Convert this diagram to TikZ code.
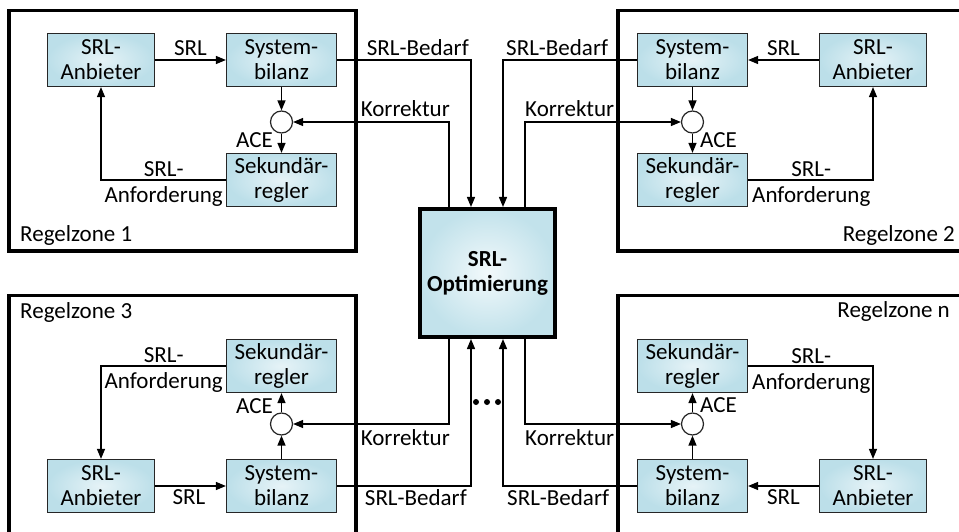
\documentclass[tikz,border=0pt]{standalone}
\usepackage{fontspec}
\setmainfont{Carlito}
\usepackage{tikz}
\usetikzlibrary{arrows.meta,calc}
\definecolor{boxin}{HTML}{E6F3F7}
\definecolor{boxout}{HTML}{BCDFE9}
\definecolor{optin}{HTML}{F2F9FB}
\definecolor{optout}{HTML}{C2E2EB}
\begin{document}
\begin{tikzpicture}[x=1pt,y=-1pt,
  font=\fontsize{23}{25}\selectfont,
  block/.style={draw=black!85, line width=1.2pt, inner color=boxin, outer color=boxout,
    minimum width=110pt, minimum height=53pt, align=center, inner sep=0pt},
  offer/.style={block, minimum width=107pt},
  sumpt/.style={circle, draw=black!85, line width=1.2pt, fill=white, minimum size=22pt, inner sep=0pt},
  optbox/.style={draw=black, line width=4pt, inner color=optin, outer color=optout,
    minimum width=135pt, minimum height=128pt, align=center, inner sep=0pt, font=\fontsize{23}{25}\selectfont\bfseries},
  zone/.style={draw=black, line width=3.5pt},
  arr/.style={-{Triangle[length=10pt,width=8pt]}, line width=1.3pt},
  lbl/.style={inner sep=0pt}
]
\useasboundingbox (0,0) rectangle (959,532);
\clip (0,0) rectangle (959,532);
\fill[white] (0,0) rectangle (959,532);

% control zone frames
\draw[zone] (9,10.5) rectangle (356,251);
\draw[zone] (618,10.5) rectangle (965,251);
\draw[zone] (9,295.5) rectangle (356,536);
\draw[zone] (618,295.5) rectangle (965,536);

% central optimisation
\node[optbox] (opt) at (487.5,273) {SRL-\\Optimierung};

% x positions of the vertical feeds into the optimisation box
\coordinate (kx1) at (449,0);
\coordinate (bx1) at (471,0);
\coordinate (bx2) at (503,0);
\coordinate (kx2) at (525,0);

% ---------- Regelzone 1 ----------
\node[offer] (A1) at (101,60) {SRL-\\Anbieter};
\node[block] (S1) at (281.5,60) {System-\\bilanz};
\node[sumpt] (C1) at (281.5,122) {};
\node[block] (K1) at (281.5,180) {Sekundär-\\regler};
\draw[arr] (A1) -- (S1);
\node[lbl, anchor=base] (t1) at (190.5,56) {SRL};
\draw[arr] (S1) -- (C1);
\draw[arr] (C1) -- (K1);
\node[lbl, anchor=base east] (e1) at (273,148) {ACE};
\draw[arr] (K1.west) -| (A1.south);
\node[lbl, anchor=base east] (f1) at (223,203) {Anforderung};
\node[lbl, anchor=base] (g1) at ($(f1.base)+(0,-26)$) {SRL-};
\draw[arr] (opt.north -| kx1) |- (C1.east);
\node[lbl, anchor=base east] (k1) at (450,117) {Korrektur};
\draw[arr] (S1.east) -| (opt.north -| bx1);
\node[lbl, anchor=base east] (b1) at (469,56) {SRL-Bedarf};
\node[lbl, anchor=base west] (z1) at (20,241) {Regelzone 1};

% ---------- Regelzone 2 ----------
\node[offer] (A2) at (873,60) {SRL-\\Anbieter};
\node[block] (S2) at (692.5,60) {System-\\bilanz};
\node[sumpt] (C2) at (692.5,122) {};
\node[block] (K2) at (692.5,180) {Sekundär-\\regler};
\draw[arr] (A2) -- (S2);
\node[lbl, anchor=base] (t2) at (783.5,56) {SRL};
\draw[arr] (S2) -- (C2);
\draw[arr] (C2) -- (K2);
\node[lbl, anchor=base west] (e2) at (700,148) {ACE};
\draw[arr] (K2.east) -| (A2.south);
\node[lbl, anchor=base west] (f2) at (752,203) {Anforderung};
\node[lbl, anchor=base] (g2) at ($(f2.base)+(0,-26)$) {SRL-};
\draw[arr] (opt.north -| kx2) |- (C2.west);
\node[lbl, anchor=base west] (k2) at (525,117) {Korrektur};
\draw[arr] (S2.west) -| (opt.north -| bx2);
\node[lbl, anchor=base west] (b2) at (506,56) {SRL-Bedarf};
\node[lbl, anchor=base east] (z2) at (955,241) {Regelzone 2};

% ---------- Regelzone 3 ----------
\node[offer] (A3) at (101,486) {SRL-\\Anbieter};
\node[block] (S3) at (281.5,486) {System-\\bilanz};
\node[sumpt] (C3) at (281.5,424) {};
\node[block] (K3) at (281.5,366) {Sekundär-\\regler};
\draw[arr] (A3) -- (S3);
\node[lbl, anchor=north] (t3) at (189,489) {SRL};
\draw[arr] (S3) -- (C3);
\draw[arr] (C3) -- (K3);
\node[lbl, anchor=base east] (e3) at (273,413) {ACE};
\draw[arr] (K3.west) -| (A3.north);
\node[lbl, anchor=base east] (f3) at (223,388) {Anforderung};
\node[lbl, anchor=base] (g3) at ($(f3.base)+(0,-26)$) {SRL-};
\draw[arr] (opt.south -| kx1) |- (C3.east);
\node[lbl, anchor=north east] (k3) at (450,429) {Korrektur};
\draw[arr] (S3.east) -| (opt.south -| bx1);
\node[lbl, anchor=north east] (b3) at (467,489) {SRL-Bedarf};
\node[lbl, anchor=base west] (z3) at (20,318) {Regelzone 3};

% ---------- Regelzone n ----------
\node[offer] (A4) at (873,486) {SRL-\\Anbieter};
\node[block] (S4) at (692.5,486) {System-\\bilanz};
\node[sumpt] (C4) at (692.5,424) {};
\node[block] (K4) at (692.5,366) {Sekundär-\\regler};
\draw[arr] (A4) -- (S4);
\node[lbl, anchor=north] (t4) at (783.5,489) {SRL};
\draw[arr] (S4) -- (C4);
\draw[arr] (C4) -- (K4);
\node[lbl, anchor=base west] (e4) at (700,412) {ACE};
\draw[arr] (K4.east) -| (A4.north);
\node[lbl, anchor=base west] (f4) at (752,389) {Anforderung};
\node[lbl, anchor=base] (g4) at ($(f4.base)+(0,-26)$) {SRL-};
\draw[arr] (opt.south -| kx2) |- (C4.west);
\node[lbl, anchor=north west] (k4) at (525,429) {Korrektur};
\draw[arr] (S4.west) -| (opt.south -| bx2);
\node[lbl, anchor=north west] (b4) at (507,489) {SRL-Bedarf};
\node[lbl, anchor=base east] (z4) at (950,317) {Regelzone n};

% further zones
\foreach \dx in {476,487,498} \fill (\dx,402) circle (3pt);
\end{tikzpicture}
\end{document}
